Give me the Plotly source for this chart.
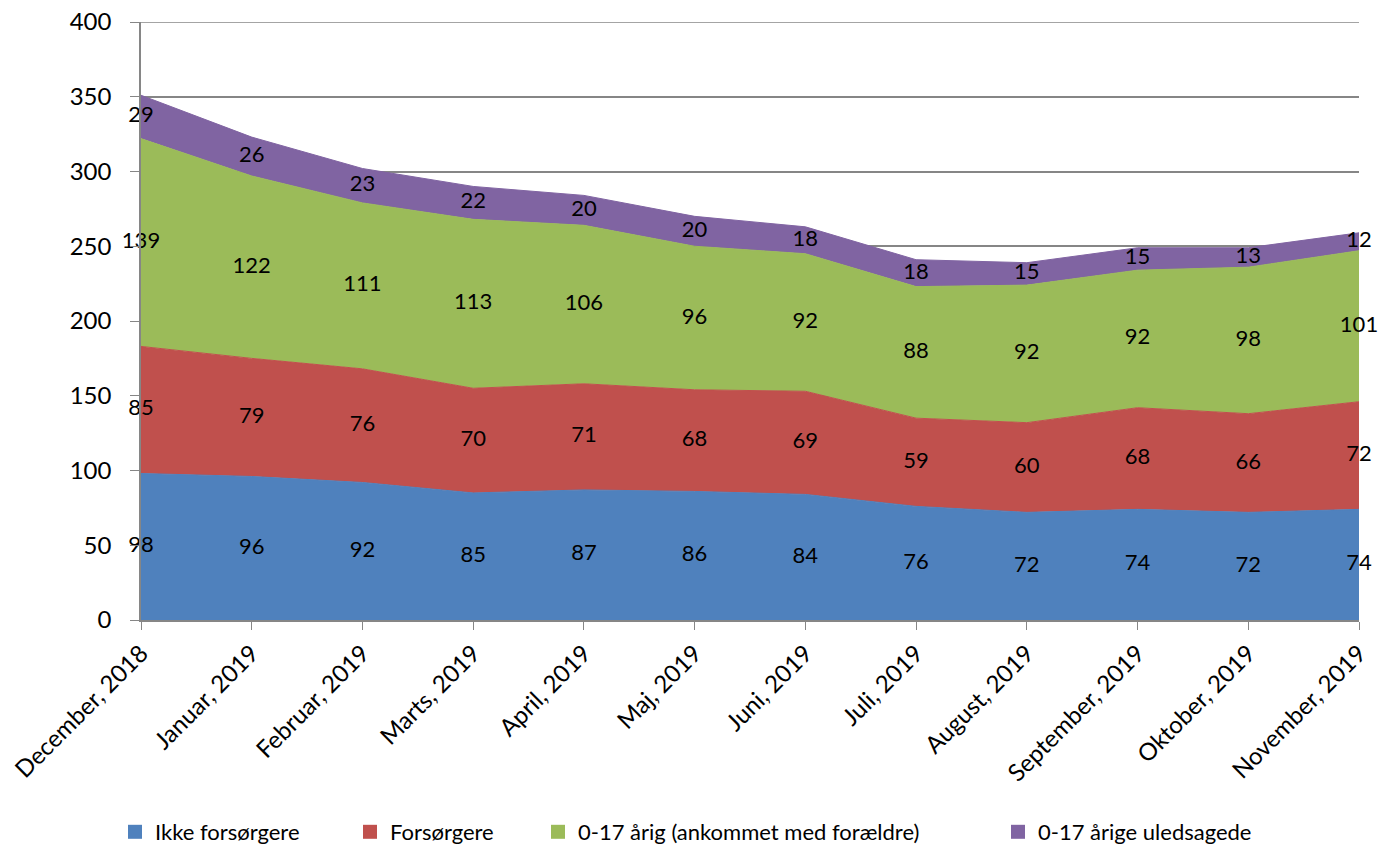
import plotly.graph_objects as go

months = ["December, 2018", "Januar, 2019", "Februar, 2019", "Marts, 2019", "April, 2019",
          "Maj, 2019", "Juni, 2019", "Juli, 2019", "August, 2019", "September, 2019",
          "Oktober, 2019", "November, 2019"]
ikke = [98, 96, 92, 85, 87, 86, 84, 76, 72, 74, 72, 74]
forsorgere = [85, 79, 76, 70, 71, 68, 69, 59, 60, 68, 66, 72]
ankommet = [139, 122, 111, 113, 106, 96, 92, 88, 92, 92, 98, 101]
uledsagede = [29, 26, 23, 22, 20, 20, 18, 18, 15, 15, 13, 12]
y_max = 400

series = [
    ("Ikke forsørgere", ikke, "#4F81BD"),
    ("Forsørgere", forsorgere, "#C0504D"),
    ("0-17 årig (ankommet med forældre)", ankommet, "#9BBB59"),
    ("0-17 årige uledsagede", uledsagede, "#8064A2"),
]

FONT = "Lato, Noto Sans, sans-serif"
W, H = 1380, 846
L, R, T, B = 141, 21, 22, 226
PW = W - L - R
PH = H - T - B

def px_to_paper(p):
    return (p - L) / PW

def py_to_paper(p):
    return (H - B - p) / PH

fig = go.Figure()
base = [0] * len(months)
for name, vals, col in series:
    fig.add_trace(go.Scatter(
        x=months, y=vals, name=name, stackgroup="one", mode="lines",
        line=dict(color=col, width=1), fillcolor=col, showlegend=False,
    ))
    mids = [b + v / 2 for b, v in zip(base, vals)]
    fig.add_trace(go.Scatter(
        x=months, y=mids, mode="text", text=[str(v) for v in vals],
        textposition="middle center", textfont=dict(size=22, color="black", family=FONT),
        showlegend=False, hoverinfo="skip", cliponaxis=False,
    ))
    base = [b + v for b, v in zip(base, vals)]

legend_px = [130, 365, 553, 1013]
legend_names = ["legend", "legend2", "legend3", "legend4"]
layout_legends = {}
for (name, vals, col), lp, ln in zip(series, legend_px, legend_names):
    fig.add_trace(go.Scatter(
        x=[None], y=[None], mode="markers", name=name, legend=ln,
        marker=dict(symbol="square", size=14, color=col), showlegend=True,
    ))
    layout_legends[ln] = dict(
        x=px_to_paper(lp - 15), xanchor="left", y=py_to_paper(832),
        yanchor="middle", orientation="h", font=dict(size=22, family=FONT),
        bgcolor="rgba(0,0,0,0)", itemwidth=30,
    )

fig.update_layout(
    width=W, height=H, plot_bgcolor="white", paper_bgcolor="white",
    margin=dict(l=L, r=R, t=T, b=B, autoexpand=False),
    font=dict(family=FONT, size=22, color="black"),
    showlegend=True,
    **layout_legends,
)
# top gridline at the range maximum
fig.add_shape(type="line", xref="paper", x0=0, x1=1, yref="y", y0=y_max, y1=y_max,
              line=dict(color="#868686", width=1.5), layer="below")
fig.update_xaxes(
    type="category", range=[0, len(months) - 1], tickangle=-45, automargin=False,
    showline=True, linecolor="#868686", linewidth=1.5,
    ticks="outside", ticklen=8, tickcolor="#868686", showgrid=False,
    tickfont=dict(size=24), ticklabeloverflow="allow",
)
fig.update_yaxes(
    range=[0, y_max], dtick=50, showgrid=True, gridcolor="#868686", gridwidth=1.5,
    showline=True, linecolor="#868686", linewidth=1.5, automargin=False,
    ticks="outside", ticklen=9, tickcolor="#868686", zeroline=False,
    tickfont=dict(size=24), ticklabelstandoff=14, ticklabeloverflow="allow",
)
fig.write_html(
    "out.html",
    config={"displayModeBar": False},
    post_script="document.body.style.margin='0';document.documentElement.style.overflow='hidden';document.body.style.overflow='hidden';",
)
